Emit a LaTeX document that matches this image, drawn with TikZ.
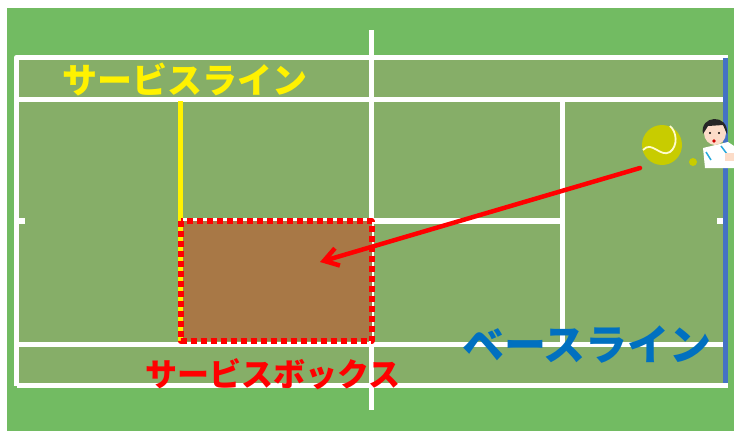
\documentclass[tikz,border=0pt]{standalone}
\usepackage{fontspec}
\newfontfamily\jp{Noto Sans CJK JP}
\usetikzlibrary{arrows.meta}
\definecolor{field}{HTML}{72BB62}
\definecolor{court}{HTML}{86AE68}
\definecolor{clay}{HTML}{A87846}
\definecolor{baseblue}{HTML}{4472C4}
\definecolor{textblue}{HTML}{0070C0}
\definecolor{ballyellow}{HTML}{C8CC00}
\definecolor{skin}{HTML}{FCDCC8}
\tikzset{
  every picture/.style={line join=round, >=Stealth},
  courtline/.style={white, line width=5.5pt},
  tag/.style={inner sep=0pt},
}

\begin{document}
\begin{tikzpicture}[x=1pt,y=-1pt]
\useasboundingbox[fill=white] (0,0) rectangle (734,431);
\fill[field] (7,8) rectangle (734,431);
\fill[court] (16.5,57.5) rectangle (725.5,385.5);
% lines of the court
\draw[courtline] (16.5,385.5) -- (16.5,57.5) -- (728,57.5);
\draw[courtline] (16.5,385.5) -- (728,385.5);
\draw[courtline] (16.5,99.5) -- (725.5,99.5) (16.5,344.5) -- (725.5,344.5);
\draw[courtline] (180.5,99.5) -- (180.5,344.5) (562.5,99.5) -- (562.5,344.5);
\draw[courtline] (180.5,221) -- (562.5,221);
\draw[courtline] (371.5,30) -- (371.5,410);
\draw[courtline] (16.5,221) -- (25,221) (717,221) -- (725.5,221);
\draw[baseblue, line width=5pt] (725.5,57.5) -- (725.5,383);
% service box
\fill[clay] (180.5,221) rectangle (371.5,341);
\draw[yellow, line width=5pt] (180.5,101) -- (180.5,341);
\draw[red, line width=6pt, dash pattern=on 6pt off 4pt] (180.5,221) rectangle (371.5,341);
% ball
\fill[ballyellow] (662,145) circle[radius=20pt];
\draw[white!80!yellow, line width=1.8pt] (643,150) .. controls (652,140) and (660,158) .. (670,152)
  .. controls (678,146) and (677,132) .. (670,126);
\fill[ballyellow] (693,162) circle[radius=4pt];
% player
\fill[white] (703,148) -- (728,142) -- (734,146) -- (734,168) -- (705,168) -- cycle;
\draw[baseblue!60!cyan, line width=1.5pt] (706,152) -- (711,160) (721,146) -- (727,154);
\fill[skin] (725,153) rectangle (734,161);
\fill[skin] (715,133) ellipse[x radius=11pt, y radius=12pt];
\fill[black!85] (703,134) .. controls (699,115) and (729,113) .. (727,134) -- (723,125) -- (708,126) -- cycle;
\fill[black] (710,133) circle[radius=1.2pt] (719,133) circle[radius=1.2pt];
\fill[red!80!black] (714,141) circle[radius=1.8pt];
% shot
\coordinate (shot) at (640,168);
\coordinate (land) at (320,262);
\draw[red, line width=4.5pt, line cap=round, -{Straight Barb[length=14pt, width=18pt]}] (shot) -- (land);
% names
\node[tag, text=yellow, font=\jp\bfseries\fontsize{35pt}{35pt}\selectfont] (servelabel) at (185,79) {サービスライン};
\node[tag, text=red, font=\jp\bfseries\fontsize{32pt}{32pt}\selectfont] (boxlabel) at (273,374) {サービスボックス};
\node[tag, text=textblue, font=\jp\bfseries\fontsize{42pt}{42pt}\selectfont] (baselabel) at (587,345) {ベースライン};
\end{tikzpicture}
\end{document}
